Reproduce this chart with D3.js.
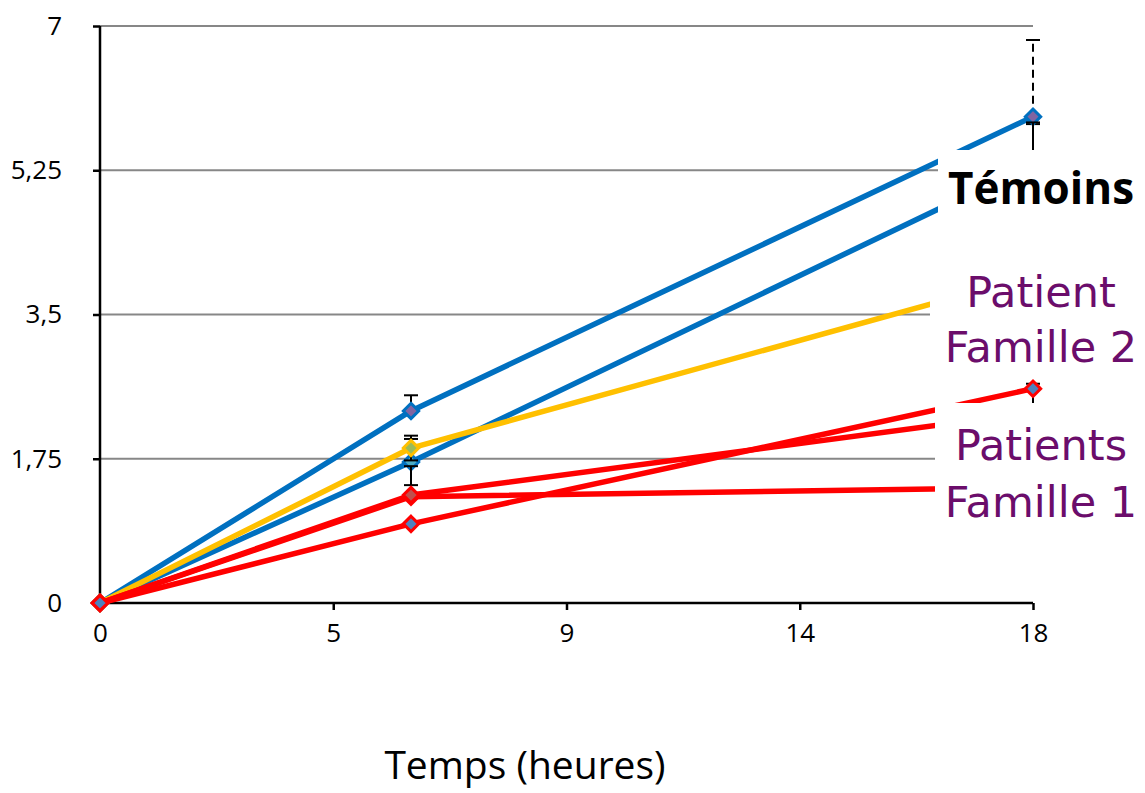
<!DOCTYPE html>
<html>
<head>
<meta charset="utf-8">
<script src="https://cdn.jsdelivr.net/npm/d3@7"></script>
<style>
  body { margin: 0; background: #fff; }
  svg { display: block; }
</style>
</head>
<body>
<svg id="chart" width="1145" height="793"></svg>
<script>
// DATA
const timePoints = [0, 6, 18];

const temoinsA = [0, 2.33, 5.90];
const temoinsB = [0, 1.71, 5.33];
const famille2 = [0, 1.88, 3.97];
const famille1A = [0, 0.96, 2.60];
const famille1B = [0, 1.31, 2.31];
const famille1C = [0, 1.29, 1.40];

// error bars: plus / minus per time point
const temoinsAPlus = [0, 0.19, 0.93];
const temoinsAMinus = [0, 0, 0.09];
const temoinsBPlus = [0, 0.28, 0.50];
const temoinsBMinus = [0, 0.28, 0];
const famille2Plus = [0, 0.15, 0];
const famille2Minus = [0, 0.15, 0];
const famille1APlus = [0, 0.02, 0.06];
const famille1AMinus = [0, 0, 0.2];
const famille1BPlus = [0, 0.35, 0];
const famille1BMinus = [0, 0, 0];

const xTickValues = [0, 4.5, 9, 13.5, 18];
const xTickLabels = ["0", "5", "9", "14", "18"];
const yTickValues = [0, 1.75, 3.5, 5.25, 7];
const yTickLabels = ["0", "1,75", "3,5", "5,25", "7"];

// series, in drawing order
const series = [
  { name: "temoinsA", values: temoinsA, plus: temoinsAPlus, minus: temoinsAMinus, color: "#0070c0", fill: "#8064a2", dashPlus: [false, false, true] },
  { name: "temoinsB", values: temoinsB, plus: temoinsBPlus, minus: temoinsBMinus, color: "#0070c0", fill: "#4bacc6", dashPlus: [false, false, false] },
  { name: "famille2", values: famille2, plus: famille2Plus, minus: famille2Minus, color: "#ffc000", fill: "#9bbb59", dashPlus: [false, false, false] },
  { name: "famille1C", values: famille1C, plus: [0, 0, 0], minus: [0, 0, 0], color: "#ff0000", fill: "#f79646", dashPlus: [false, false, false] },
  { name: "famille1B", values: famille1B, plus: famille1BPlus, minus: famille1BMinus, color: "#ff0000", fill: "#c0504d", dashPlus: [false, false, false] },
  { name: "famille1A", values: famille1A, plus: famille1APlus, minus: famille1AMinus, color: "#ff0000", fill: "#4f81bd", dashPlus: [false, false, false] },
];

// RENDER
const svg = d3.select("#chart");
const x = d3.scaleLinear().domain([0, 18]).range([100, 1033]);
const y = d3.scaleLinear().domain([0, 7]).range([603, 26]);

// gridlines
svg.append("g")
  .selectAll("line")
  .data(yTickValues.filter(d => d > 0))
  .join("line")
  .attr("x1", x(0)).attr("x2", x(18))
  .attr("y1", d => y(d)).attr("y2", d => y(d))
  .attr("stroke", "#878787")
  .attr("stroke-width", 2);

// axes
const yAxis = svg.append("g")
  .attr("transform", `translate(${x(0)},0)`)
  .call(d3.axisLeft(y).tickValues(yTickValues).tickSize(7).tickPadding(31)
    .tickFormat((d, i) => yTickLabels[i]));
const xAxis = svg.append("g")
  .attr("transform", `translate(0,${y(0)})`)
  .call(d3.axisBottom(x).tickValues(xTickValues).tickSize(7).tickPadding(14)
    .tickFormat((d, i) => xTickLabels[i]));

[yAxis, xAxis].forEach(a => {
  a.select(".domain").attr("stroke", "#000").attr("stroke-width", 2.5);
  a.selectAll(".tick line").attr("stroke", "#000").attr("stroke-width", 2.5);
  a.selectAll("text")
    .attr("font-family", "'Open Sans', sans-serif")
    .attr("font-size", 26)
    .attr("fill", "#000");
});
yAxis.select(".domain").attr("d", `M0,${y(7)}V${y(0)}`);
xAxis.select(".domain").attr("d", `M${x(0)},0H${x(18)}`);

// lines
const line = d3.line()
  .x((d, i) => x(timePoints[i]))
  .y(d => y(d));

const diamond = d3.symbol().type(d3.symbolDiamond2).size(150);

series.forEach(s => {
  const g = svg.append("g").attr("class", s.name);
  g.append("path")
    .attr("d", line(s.values))
    .attr("fill", "none")
    .attr("stroke", s.color)
    .attr("stroke-width", 5.5)
    .attr("stroke-linejoin", "round");

  // error bars
  s.values.forEach((v, i) => {
    const cx = x(timePoints[i]);
    if (s.plus[i] > 0) {
      g.append("line")
        .attr("x1", cx).attr("x2", cx)
        .attr("y1", y(v)).attr("y2", y(v + s.plus[i]))
        .attr("stroke", "#000").attr("stroke-width", 2)
        .attr("stroke-dasharray", s.dashPlus[i] ? "8,5" : null);
      g.append("line")
        .attr("x1", cx - 7).attr("x2", cx + 7)
        .attr("y1", y(v + s.plus[i])).attr("y2", y(v + s.plus[i]))
        .attr("stroke", "#000").attr("stroke-width", 2);
    }
    if (s.minus[i] > 0) {
      g.append("line")
        .attr("x1", cx).attr("x2", cx)
        .attr("y1", y(v)).attr("y2", y(v - s.minus[i]))
        .attr("stroke", "#000").attr("stroke-width", 2);
      g.append("line")
        .attr("x1", cx - 7).attr("x2", cx + 7)
        .attr("y1", y(v - s.minus[i])).attr("y2", y(v - s.minus[i]))
        .attr("stroke", "#000").attr("stroke-width", 2);
    }
  });

  g.selectAll("path.marker")
    .data(s.values)
    .join("path")
    .attr("class", "marker")
    .attr("transform", (d, i) => `translate(${x(timePoints[i])},${y(d)})`)
    .attr("d", diamond)
    .attr("fill", s.fill)
    .attr("stroke", s.color)
    .attr("stroke-width", 3);
});

// labels with white boxes
const labels = [
  { lines: ["Témoins"], x0: 938, y0: 150, y1: 222, color: "#000", weight: "bold", baselines: [204] },
  { lines: ["Patient", "Famille 2"], x0: 930, y0: 262, y1: 378, color: "#6b0d6b", weight: "normal", baselines: [307, 362] },
  { lines: ["Patients", "Famille 1"], x0: 935, y0: 403, y1: 530, color: "#6b0d6b", weight: "normal", baselines: [460, 517] },
];

labels.forEach(l => {
  svg.append("rect")
    .attr("x", l.x0).attr("y", l.y0)
    .attr("width", 1145 - l.x0).attr("height", l.y1 - l.y0)
    .attr("fill", "#fff");
  l.lines.forEach((t, i) => {
    svg.append("text")
      .attr("x", 1041).attr("y", l.baselines[i])
      .attr("text-anchor", "middle")
      .attr("font-family", l.weight === "bold" ? "'Open Sans', sans-serif" : "'DejaVu Sans', sans-serif")
      .attr("font-weight", l.weight)
      .attr("font-size", l.weight === "bold" ? 44 : 43)
      .attr("fill", l.color)
      .text(t);
  });
});

// axis title
svg.append("text")
  .attr("x", 525).attr("y", 779)
  .attr("text-anchor", "middle")
  .attr("font-family", "'Open Sans', sans-serif")
  .attr("font-size", 39)
  .attr("fill", "#000")
  .text("Temps (heures)");
</script>
</body>
</html>
